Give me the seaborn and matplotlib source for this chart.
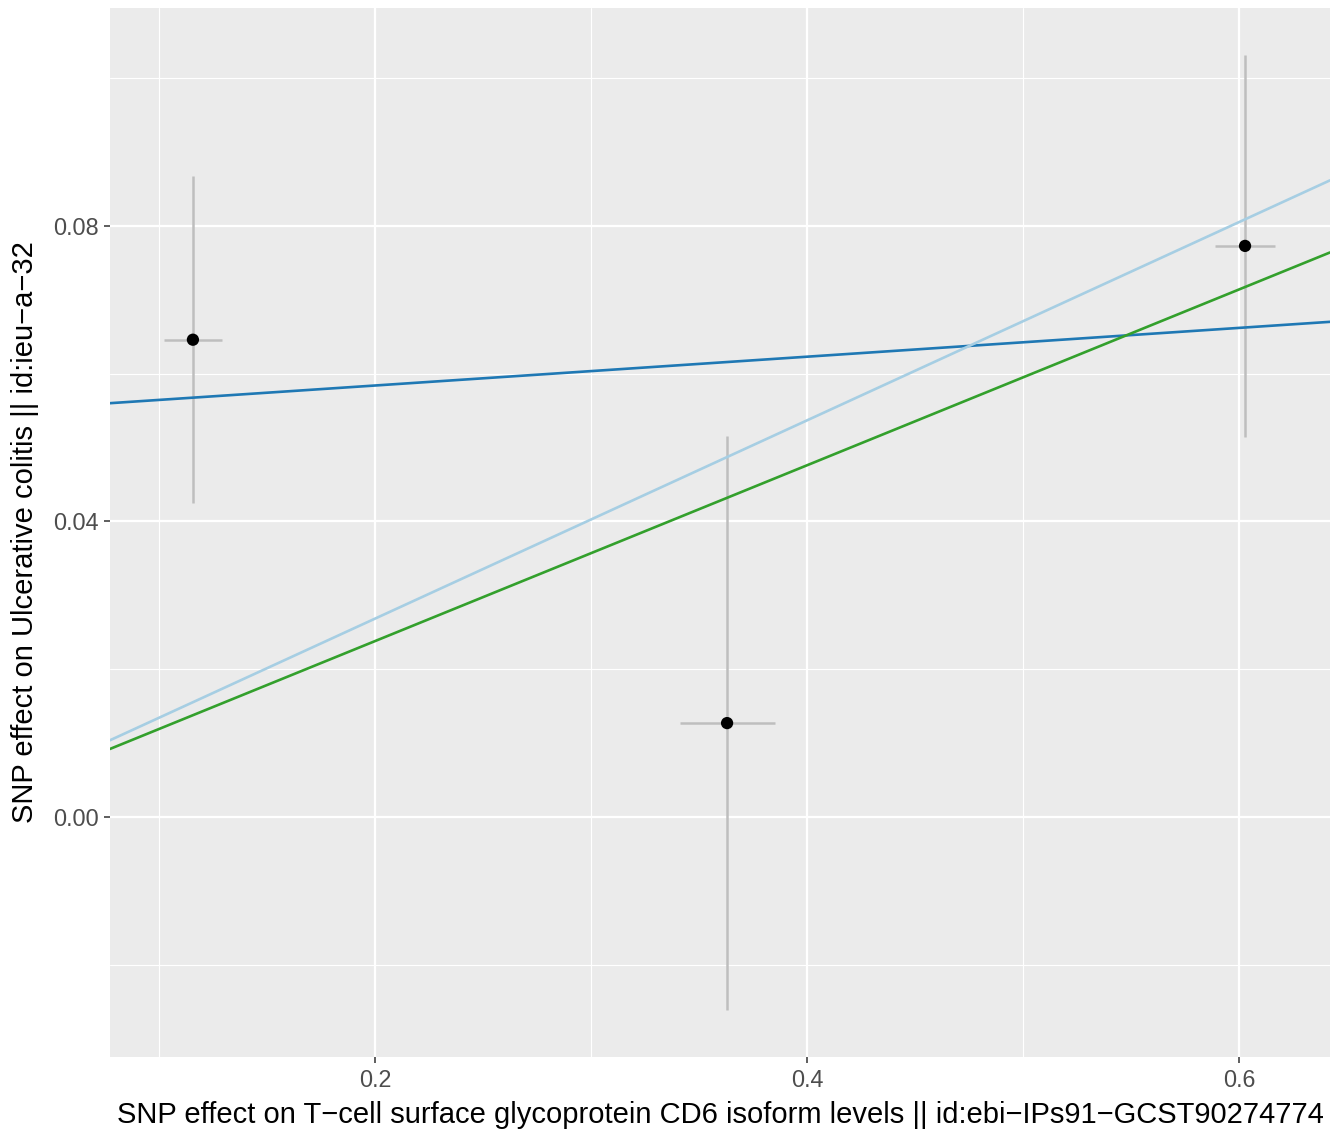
import numpy as np
import pandas as pd
import matplotlib
matplotlib.use("Agg")
import matplotlib.pyplot as plt
import seaborn as sns
from matplotlib.ticker import FixedLocator

# SNP effects (exposure / outcome) and their standard errors
beta_exposure = [0.1157, 0.3630, 0.6028]
se_exposure = [0.0134, 0.0220, 0.0137]
beta_outcome = [0.0646, 0.0127, 0.0773]
se_outcome = [0.0221, 0.0389, 0.0259]

# MR method fits
method_names = ["MR Egger", "Inverse variance weighted", "Weighted median"]
method_slopes = [0.0195, 0.1342, 0.1190]
method_intercepts = [0.0545, 0.0, 0.0]
method_colors = ["#1F78B4", "#A6CEE3", "#33A02C"]

x_ticks = [0.2, 0.4, 0.6]
y_ticks = [0.00, 0.04, 0.08]

sns.set_theme(style="darkgrid")
plt.rcParams["font.family"] = ["Liberation Sans", "DejaVu Sans"]

df = pd.DataFrame({
    "bx": beta_exposure, "bx_se": se_exposure,
    "by": beta_outcome, "by_se": se_outcome,
})

fig = plt.figure(figsize=(13.33, 11.33), dpi=100)
ax = fig.add_axes([0.0825, 0.0671, 0.9977 - 0.0825, 0.9929 - 0.0671])
ax.set_facecolor("#EBEBEB")

xlim = (0.0773, 0.6421)
ylim = (-0.0325, 0.1095)

# error bars
ax.errorbar(df["bx"], df["by"], yerr=df["by_se"], fmt="none",
            ecolor="#BEBEBE", elinewidth=1.8, capsize=0, zorder=2)
ax.errorbar(df["bx"], df["by"], xerr=df["bx_se"], fmt="none",
            ecolor="#BEBEBE", elinewidth=1.8, capsize=0, zorder=2)

# fitted lines
xs = np.array(xlim)
lines = []
for name, b, a in zip(method_names, method_slopes, method_intercepts):
    for x in xs:
        lines.append({"method": name, "x": x, "y": a + b * x})
lines = pd.DataFrame(lines)
sns.lineplot(data=lines, x="x", y="y", hue="method", hue_order=method_names,
             palette=method_colors, linewidth=1.9, legend=False, ax=ax, zorder=3)

sns.scatterplot(data=df, x="bx", y="by", color="black", s=78,
                edgecolor="none", ax=ax, zorder=4)

ax.set_xlim(*xlim)
ax.set_ylim(*ylim)
ax.xaxis.set_major_locator(FixedLocator(x_ticks))
ax.yaxis.set_major_locator(FixedLocator(y_ticks))
ax.xaxis.set_minor_locator(FixedLocator([0.1, 0.3, 0.5]))
ax.yaxis.set_minor_locator(FixedLocator([-0.02, 0.02, 0.06, 0.10]))
ax.set_xticklabels([f"{v:.1f}" for v in x_ticks])
ax.set_yticklabels([f"{v:.2f}" for v in y_ticks])

ax.grid(which="major", color="white", linewidth=1.6)
ax.grid(which="minor", color="white", linewidth=0.8)
ax.set_axisbelow(True)
for s in ax.spines.values():
    s.set_visible(False)

ax.tick_params(axis="both", which="major", length=4, width=1.1, color="#333333",
               labelsize=16.8, labelcolor="#4D4D4D")
ax.tick_params(axis="x", which="major", pad=5)
ax.tick_params(axis="y", which="major", pad=4)
ax.tick_params(which="minor", length=0)
ax.tick_params(axis="both", which="both", bottom=True, left=True)

ax.set_xlabel("SNP effect on T\u2212cell surface glycoprotein CD6 isoform levels || id:ebi\u2212IPs91\u2212GCST90274774",
              fontsize=21, color="black", labelpad=6)
ax.set_ylabel("SNP effect on Ulcerative colitis || id:ieu\u2212a\u221232",
              fontsize=21, color="black", labelpad=10)

fig.savefig("out.png", dpi=100)
